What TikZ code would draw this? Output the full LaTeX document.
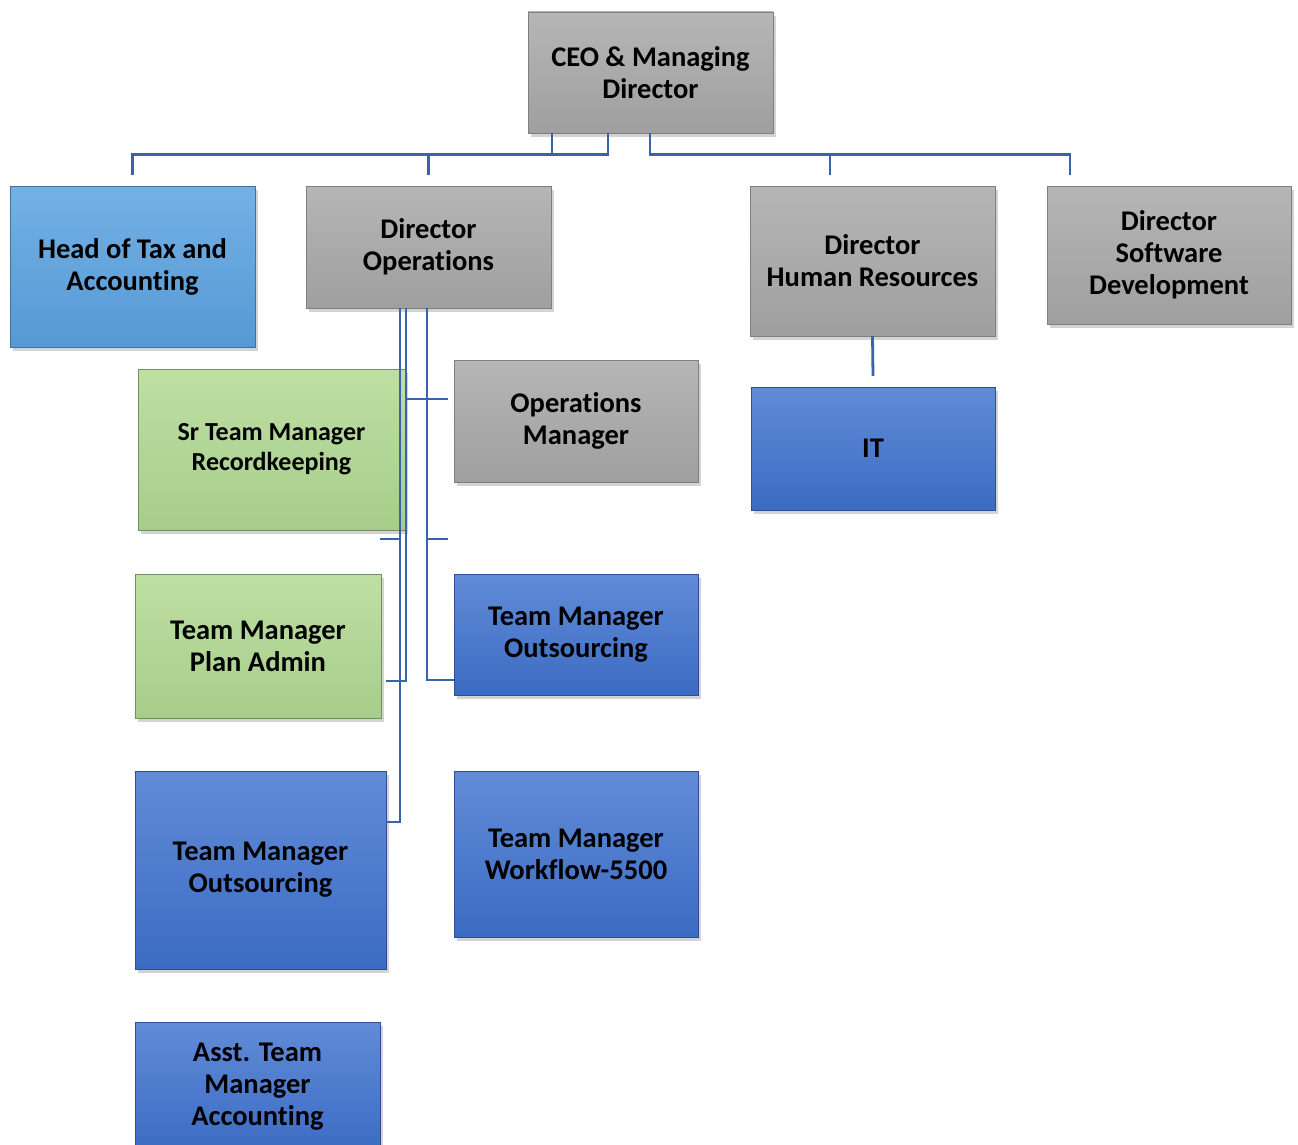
\documentclass[tikz,border=0pt]{standalone}
\usepackage{fontspec}
\setmainfont{Carlito}[Ligatures=NoCommon]
\usepackage{tikz}
\usetikzlibrary{positioning,shadows}
\definecolor{boxgray}{HTML}{A9A9A9}
\definecolor{boxsky}{HTML}{5BA3E1}
\definecolor{boxgreen}{HTML}{B2DA93}
\definecolor{boxblue}{HTML}{3F72CF}
\definecolor{linkblue}{HTML}{3B63A8}
\tikzset{
  orgbox/.style={rectangle, align=center, inner sep=2pt,
    font=\fontsize{28.5}{32}\selectfont\bfseries,
    drop shadow={opacity=0.35, shadow xshift=3pt, shadow yshift=-4pt}},
  graybox/.style={orgbox, top color=boxgray!85!white, bottom color=boxgray!94!black, draw=boxgray!75!black},
  skybox/.style={orgbox, top color=boxsky!85!white, bottom color=boxsky!94!black, draw=boxsky!70!black},
  greenbox/.style={orgbox, top color=boxgreen!85!white, bottom color=boxgreen!94!black, draw=boxgreen!65!black},
  bluebox/.style={orgbox, top color=boxblue!82!white, bottom color=boxblue!94!black, draw=boxblue!70!black},
  orgline/.style={draw=linkblue, line width=2.8pt},
}

\begin{document}
\begin{tikzpicture}[x=1pt, y=-1pt]
  \useasboundingbox (0,0) rectangle (1298,1145);
  % top level
  \node[graybox, minimum width=245pt, minimum height=121pt] (ceo) at (650.5,72.5) {CEO \& Managing\\Director};
  \node[skybox, minimum width=245pt, minimum height=161pt] (taxhead) at (132.5,266.5) {Head of Tax and\\Accounting};
  \node[graybox, minimum width=245pt, minimum height=122pt] (dirops) at (428.5,247) {Director\\Operations};
  \node[graybox, minimum width=245pt, minimum height=150pt] (dirhr) at (872.5,261) {Director\\ Human Resources};
  \node[graybox, minimum width=244pt, minimum height=138pt] (dirsw) at (1169,255) {Director\\Software\\Development};
  % operations
  \node[greenbox, minimum width=267pt, minimum height=161pt, font=\fontsize{26}{30}\selectfont\bfseries] (srtm) at (271.5,449.5) {Sr Team Manager\\Recordkeeping};
  \node[graybox, minimum width=244pt, minimum height=122pt] (opsmgr) at (576,421) {Operations\\Manager};
  \node[greenbox, minimum width=246pt, minimum height=144pt] (tmplan) at (258,646) {Team Manager\\Plan Admin};
  \node[bluebox, minimum width=244pt, minimum height=121pt] (tmoutr) at (576,634.5) {Team Manager\\Outsourcing};
  \node[bluebox, minimum width=251pt, minimum height=198pt] (tmoutl) at (260.5,870) {Team Manager\\Outsourcing};
  \node[bluebox, minimum width=244pt, minimum height=166pt] (tmwork) at (576,854) {Team Manager\\Workflow-5500};
  \node[bluebox, minimum width=245pt, minimum height=130pt] (asst) at (257.5,1087) {Asst. Team\\Manager\\Accounting};
  % human resources
  \node[bluebox, minimum width=244pt, minimum height=123pt] (it) at (873,448.5) {IT};

  % connectors
  \draw[orgline] ([xshift=-98.5pt]ceo.south) |- ([yshift=31pt]taxhead.north) -- ([yshift=11pt]taxhead.north);
  \draw[orgline] ([xshift=-42.5pt]ceo.south) |- ([yshift=31pt]dirops.north) -- ([yshift=11pt]dirops.north);
  \draw[orgline] ([xshift=-0.5pt]ceo.south) |- ([xshift=-42.5pt,yshift=31pt]dirhr.north) -- ([xshift=-42.5pt,yshift=11pt]dirhr.north);
  \draw[orgline] ([xshift=-42.5pt,yshift=31pt]dirhr.north) -| ([xshift=-99pt,yshift=11pt]dirsw.north);
  \draw[orgline] (dirhr.south) -- ([yshift=11pt]it.north);

  \coordinate (trunkr) at ([xshift=-1.5pt]dirops.south);
  \coordinate (trunkm) at ([xshift=-22.5pt]dirops.south);
  \coordinate (trunkl) at ([xshift=-28.5pt]dirops.south);
  \coordinate (stubr) at (448,539);
  \coordinate (stubl) at (380,539);
  \draw[orgline] (trunkr) |- ([yshift=-45.5pt]tmoutr.west);
  \draw[orgline] ([xshift=2pt,yshift=50.5pt]srtm.east) -- ([xshift=-6pt,yshift=22pt]opsmgr.west);
  \draw[orgline] (trunkr |- stubr) -- (stubr);
  \draw[orgline] (trunkm) |- ([xshift=5pt,yshift=-35pt]tmplan.east);
  \draw[orgline] (trunkl) |- ([yshift=48pt]tmoutl.east);
  \draw[orgline] (trunkl |- stubl) -- (stubl);
\end{tikzpicture}
\end{document}
